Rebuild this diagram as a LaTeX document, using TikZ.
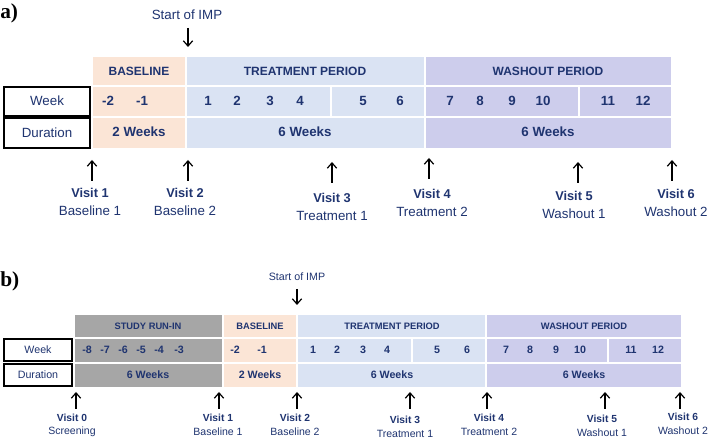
\documentclass[tikz,border=0pt]{standalone}
\usepackage{fontspec}
\setmainfont{Liberation Sans}
\newfontfamily\serifpanel{Liberation Serif}
\usetikzlibrary{arrows.meta}
\definecolor{navy}{HTML}{1F3470}
\definecolor{peach}{HTML}{FBE5D6}
\definecolor{lblue}{HTML}{DAE3F3}
\definecolor{lav}{HTML}{CDCDEC}
\definecolor{runin}{HTML}{A6A6A6}
\tikzset{
  cellbox/.style={inner sep=0pt, outer sep=0pt, draw=none},
  labbox/.style={inner sep=0pt, outer sep=0pt, draw=black, line width=1.2pt, fill=white},
  txt/.style={inner sep=0pt, outer sep=0pt, text=navy},
  upar/.style={-{Straight Barb[length=4pt,width=7pt,line width=0.9pt]}, line width=0.9pt, black},
  panel/.style={inner sep=0pt, font=\serifpanel\bfseries\fontsize{16}{16}\selectfont}
}
% \mycell{name}{x1}{y1}{x2}{y2}{style}
\newcommand{\mycell}[6]{%
  \node[#6, minimum width={(#4-#2)*0.75pt}, minimum height={(#5-#3)*0.75pt}]
    (#1) at ({(#2+#4)/2},{(#3+#5)/2}) {};}
\begin{document}
\begin{tikzpicture}[x=0.75pt,y=-0.75pt]
\useasboundingbox (0,0) rectangle (708,438);

% ================= Panel a =================
\node[panel, anchor=west] (pa) at (0,13) {a)};
\node[txt, font=\fontsize{10}{12}\selectfont] (imp1) at (187,15) {Start of IMP};
\coordinate (impa1) at (188,28);
\coordinate (impa2) at (188,47);
\draw[upar] (impa1) -- (impa2);

\mycell{ah1}{93}{57}{185}{85}{cellbox, fill=peach}
\mycell{ah2}{187}{57}{424}{85}{cellbox, fill=lblue}
\mycell{ah3}{426}{57}{671}{85}{cellbox, fill=lav}
\mycell{aw1}{93}{87}{185}{116}{cellbox, fill=peach}
\mycell{aw2}{187}{87}{330}{116}{cellbox, fill=lblue}
\mycell{aw3}{332}{87}{424}{116}{cellbox, fill=lblue}
\mycell{aw4}{426}{87}{578}{116}{cellbox, fill=lav}
\mycell{aw5}{580}{87}{671}{116}{cellbox, fill=lav}
\mycell{ad1}{93}{118}{185}{148}{cellbox, fill=peach}
\mycell{ad2}{187}{118}{424}{148}{cellbox, fill=lblue}
\mycell{ad3}{426}{118}{671}{148}{cellbox, fill=lav}
\mycell{alw}{4}{87}{90}{116}{labbox}
\mycell{ald}{4}{118}{90}{148}{labbox}

\begin{scope}[every node/.style={txt, font=\bfseries\fontsize{9}{11}\selectfont}]
\node (aht1) at (139,71) {BASELINE};
\node (aht2) at (305,71) {TREATMENT PERIOD};
\node (aht3) at (548,71) {WASHOUT PERIOD};
\end{scope}
\node[txt, font=\fontsize{10}{12}\selectfont] (alwt) at (47,101) {Week};
\node[txt, font=\fontsize{10}{12}\selectfont] (aldt) at (47,133) {Duration};
\begin{scope}[every node/.style={txt, font=\bfseries\fontsize{10}{12}\selectfont}]
\node (awm2) at (108,101) {-2};
\node (awm1) at (142,101) {-1};
\node (aw01) at (208,101) {1};
\node (aw02) at (237,101) {2};
\node (aw03) at (270,101) {3};
\node (aw04) at (300,101) {4};
\node (aw05) at (363,101) {5};
\node (aw06) at (400,101) {6};
\node (aw07) at (450,101) {7};
\node (aw08) at (480,101) {8};
\node (aw09) at (512,101) {9};
\node (aw10) at (543,101) {10};
\node (aw11) at (608,101) {11};
\node (aw12) at (643,101) {12};
\node (adt1) at (139,132) {2 Weeks};
\node (adt2) at (305,132) {6 Weeks};
\node (adt3) at (548,132) {6 Weeks};
\end{scope}

% visits a
\foreach \n/\ax/\ay/\lx/\ly/\sub in {1/92/160/90/193/Baseline 1, 2/188/160/185/193/Baseline 2, 3/332/162/332/198/Treatment 1, 4/429/158/432/194/Treatment 2, 5/578/162/574/196/Washout 1, 6/672/160/676/194/Washout 2}{
  \coordinate (avs\n) at (\ax,\ay+21);
  \coordinate (ave\n) at (\ax,\ay);
  \draw[upar] (avs\n) -- (ave\n);
  \node[txt, font=\bfseries\fontsize{9.6}{11}\selectfont] (av\n) at (\lx,\ly) {Visit \n};
  \node[txt, font=\fontsize{10}{12}\selectfont] (avt\n) at (\lx,\ly+17.5) {\sub};
}

% ================= Panel b =================
\node[panel, anchor=west] (pb) at (0,281) {b)};
\node[txt, font=\fontsize{8}{10}\selectfont] (imp2) at (297,277) {Start of IMP};
\coordinate (impb1) at (297,289);
\coordinate (impb2) at (297,305);
\draw[upar] (impb1) -- (impb2);

\mycell{bh0}{75}{315}{222}{337}{cellbox, fill=runin}
\mycell{bh1}{224}{315}{296}{337}{cellbox, fill=peach}
\mycell{bh2}{298}{315}{485}{337}{cellbox, fill=lblue}
\mycell{bh3}{487}{315}{681}{337}{cellbox, fill=lav}
\mycell{bw0}{75}{339}{222}{362}{cellbox, fill=runin}
\mycell{bw1}{224}{339}{296}{362}{cellbox, fill=peach}
\mycell{bw2}{298}{339}{411}{362}{cellbox, fill=lblue}
\mycell{bw3}{413}{339}{485}{362}{cellbox, fill=lblue}
\mycell{bw4}{487}{339}{607}{362}{cellbox, fill=lav}
\mycell{bw5}{609}{339}{681}{362}{cellbox, fill=lav}
\mycell{bd0}{75}{364}{222}{387}{cellbox, fill=runin}
\mycell{bd1}{224}{364}{296}{387}{cellbox, fill=peach}
\mycell{bd2}{298}{364}{485}{387}{cellbox, fill=lblue}
\mycell{bd3}{487}{364}{681}{387}{cellbox, fill=lav}
\mycell{blw}{4}{339}{72}{361}{labbox}
\mycell{bld}{4}{364}{72}{386}{labbox}

\begin{scope}[every node/.style={txt, font=\bfseries\fontsize{7}{9}\selectfont}]
\node (bht0) at (148,326) {STUDY RUN-IN};
\node (bht1) at (260,326) {BASELINE};
\node (bht2) at (392,326) {TREATMENT PERIOD};
\node (bht3) at (584,326) {WASHOUT PERIOD};
\end{scope}
\node[txt, font=\fontsize{8}{10}\selectfont] (blwt) at (38,350) {Week};
\node[txt, font=\fontsize{8}{10}\selectfont] (bldt) at (38,375) {Duration};
\begin{scope}[every node/.style={txt, font=\bfseries\fontsize{8}{10}\selectfont}]
\node (bwm8) at (87,350) {-8};
\node (bwm7) at (105,350) {-7};
\node (bwm6) at (123,350) {-6};
\node (bwm5) at (141,350) {-5};
\node (bwm4) at (159,350) {-4};
\node (bwm3) at (179,350) {-3};
\node (bwm2) at (235,350) {-2};
\node (bwm1) at (262,350) {-1};
\node (bw01) at (313,350) {1};
\node (bw02) at (337,350) {2};
\node (bw03) at (363,350) {3};
\node (bw04) at (387,350) {4};
\node (bw05) at (437,350) {5};
\node (bw06) at (467,350) {6};
\node (bw07) at (506,350) {7};
\node (bw08) at (530,350) {8};
\node (bw09) at (556,350) {9};
\node (bw10) at (580,350) {10};
\node (bw11) at (631,350) {11};
\node (bw12) at (658,350) {12};
\node (bdt0) at (148,375) {6 Weeks};
\node (bdt1) at (260,375) {2 Weeks};
\node (bdt2) at (392,375) {6 Weeks};
\node (bdt3) at (584,375) {6 Weeks};
\end{scope}

% visits b
\foreach \n/\ax/\lx/\ly/\sub in {0/76/72/418/Screening, 1/219/218/418/Baseline 1, 2/297/295/418/Baseline 2, 3/410/405/420/Treatment 1, 4/487/489/418/Treatment 2, 5/605/602/419/Washout 1, 6/680/683/417/Washout 2}{
  \coordinate (bvs\n) at (\ax,409);
  \coordinate (bve\n) at (\ax,392);
  \draw[upar] (bvs\n) -- (bve\n);
  \node[txt, font=\bfseries\fontsize{7.7}{9}\selectfont] (bv\n) at (\lx,\ly) {Visit \n};
  \node[txt, font=\fontsize{7.9}{9}\selectfont] (bvt\n) at (\lx,\ly+14) {\sub};
}
\end{tikzpicture}
\end{document}
